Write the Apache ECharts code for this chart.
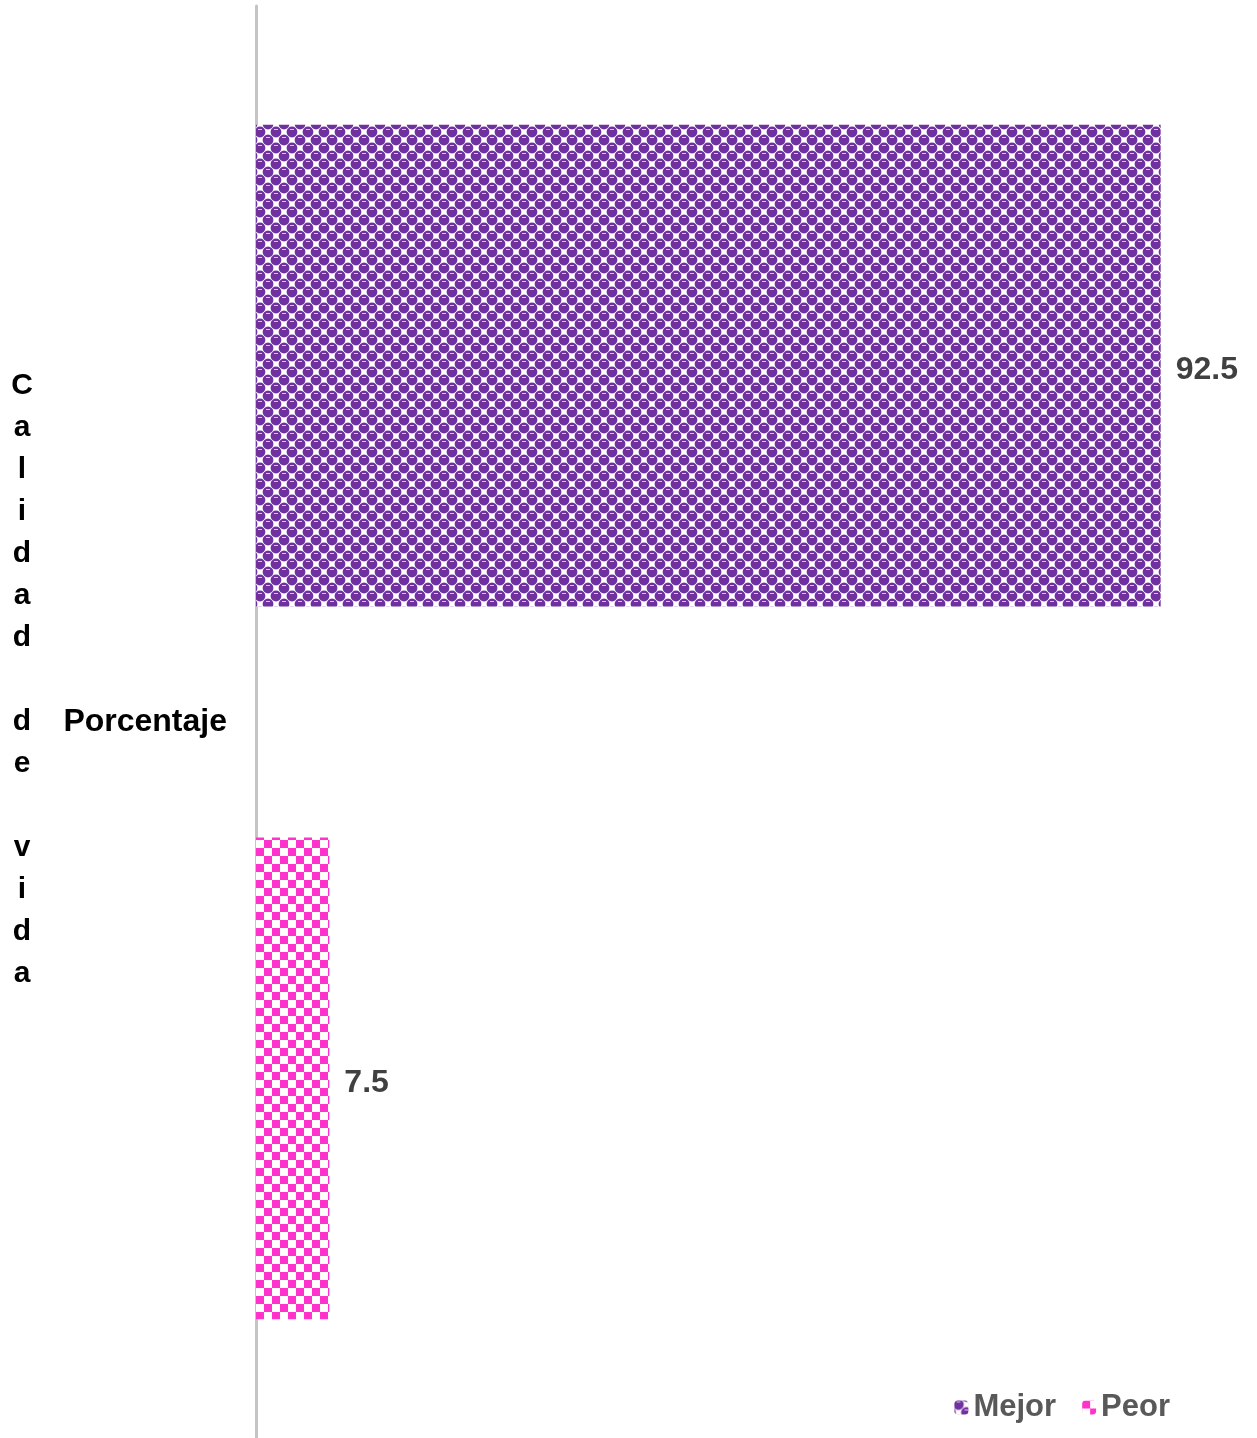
<!DOCTYPE html>
<html>
<head>
<meta charset="utf-8">
<style>html,body{margin:0;padding:0;background:#fff;}#main{width:1257px;height:1438px;}</style>
<script src="https://cdn.jsdelivr.net/npm/echarts@6/dist/echarts.min.js"></script>
</head>
<body>
<div id="main"></div>
<script>
const categories = ['Porcentaje'];
const seriesNames = ['Mejor', 'Peor'];
const mejorValues = [92.5];
const peorValues = [7.5];
const axisName = 'Calidad de vida';

function makePurplePattern() {
  const c = document.createElement('canvas');
  c.width = 16; c.height = 16;
  const g = c.getContext('2d');
  g.fillStyle = '#ffffff'; g.fillRect(0, 0, 16, 16);
  g.fillStyle = '#7030A0';
  const pts = [[4,4],[12,12],[20,4],[-4,12],[4,20],[12,-4],[20,20],[-4,-4]];
  pts.forEach(p => { g.beginPath(); g.arc(p[0], p[1], 5.4, 0, Math.PI * 2); g.fill(); });
  g.fillStyle = '#ffffff';
  g.fillRect(10, 2, 4, 4);
  g.fillRect(2, 10, 4, 4);
  g.fillStyle = '#d9c2ea';
  g.fillRect(2, 1, 4, 1);
  g.fillRect(10, 9, 4, 1);
  return c;
}
function makePinkPattern() {
  const c = document.createElement('canvas');
  c.width = 16; c.height = 16;
  const g = c.getContext('2d');
  g.fillStyle = '#ffffff'; g.fillRect(0, 0, 16, 16);
  g.fillStyle = '#FF33CC';
  g.fillRect(0, 0, 8, 8);
  g.fillRect(8, 8, 8, 8);
  return c;
}

const FONT = 'Liberation Sans, Arial, sans-serif';
const chart = echarts.init(document.getElementById('main'));
const letters = axisName.split('').join('\n') + '\n \n ';
const labelStyle = { show: true, position: 'right', distance: 15, offset: [0, 5], fontSize: 32, fontWeight: 'bold', color: '#404040', fontFamily: FONT };
chart.setOption({
  backgroundColor: '#ffffff',
  animation: false,
  textStyle: { fontFamily: FONT },
  grid: { left: 256, right: 23, top: 6, bottom: 0, containLabel: false },
  legend: {
    data: seriesNames,
    right: 82,
    bottom: 10,
    itemWidth: 14,
    itemHeight: 14,
    itemGap: 26,
    textStyle: { fontSize: 31, fontWeight: 'bold', color: '#595959', fontFamily: FONT }
  },
  xAxis: {
    type: 'value', min: 0, max: 100, show: false
  },
  yAxis: {
    type: 'category',
    data: categories,
    inverse: true,
    axisLine: { lineStyle: { color: '#C4C4C4', width: 3 } },
    axisTick: { show: false },
    axisLabel: { fontSize: 32, fontWeight: 'bold', color: '#000000', margin: 29, fontFamily: FONT },
    name: letters,
    nameLocation: 'middle',
    nameRotate: 0,
    nameGap: 234,
    nameTextStyle: {
      fontSize: 30, fontWeight: 'bold', color: '#000000', align: 'center', verticalAlign: 'middle',
      lineHeight: 42, fontFamily: FONT
    }
  },
  series: [
    {
      name: seriesNames[0], type: 'bar', data: mejorValues,
      barCategoryGap: '16.6%', barGap: '48%',
      itemStyle: { color: { image: makePurplePattern(), repeat: 'repeat' } },
      label: labelStyle
    },
    {
      name: seriesNames[1], type: 'bar', data: peorValues,
      barCategoryGap: '16.6%', barGap: '48%',
      itemStyle: { color: { image: makePinkPattern(), repeat: 'repeat' } },
      label: labelStyle
    }
  ]
});
</script>
</body>
</html>
